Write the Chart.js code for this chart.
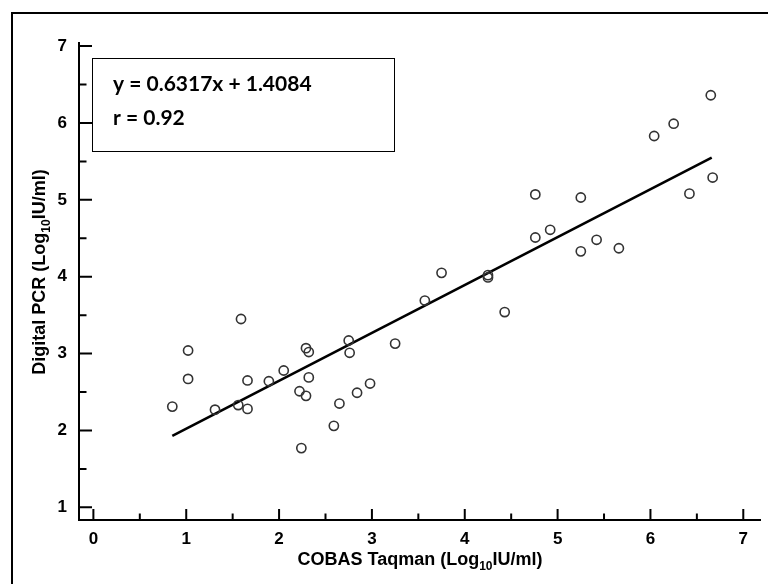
<!DOCTYPE html>
<html>
<head>
<meta charset="utf-8">
<title>Digital PCR vs COBAS Taqman</title>
<script src="https://cdn.jsdelivr.net/npm/chart.js@4"></script>
<style>
  html, body { margin: 0; padding: 0; background: #fff; }
  #wrap { width: 768px; height: 584px; position: relative; }
</style>
</head>
<body>
<div id="wrap"><canvas id="grafico" width="768" height="584"></canvas></div>
<script>
// Datos
const cobasValues = [0.85, 1.02, 1.02, 1.31, 1.56, 1.59, 1.66, 1.66, 1.89, 2.05,
  2.22, 2.24, 2.29, 2.32, 2.32, 2.29, 2.59, 2.65, 2.75, 2.76,
  2.84, 2.98, 3.25, 3.57, 3.75, 4.25, 4.25, 4.43, 4.76, 4.76,
  4.92, 5.25, 5.25, 5.42, 5.66, 6.04, 6.25, 6.42, 6.65, 6.67];
const dpcrValues = [2.31, 3.04, 2.67, 2.27, 2.33, 3.45, 2.28, 2.65, 2.64, 2.78,
  2.51, 1.77, 3.07, 3.02, 2.69, 2.45, 2.06, 2.35, 3.17, 3.01,
  2.49, 2.61, 3.13, 3.69, 4.05, 4.02, 3.99, 3.54, 5.07, 4.51,
  4.61, 5.03, 4.33, 4.48, 4.37, 5.83, 5.99, 5.08, 6.36, 5.29];

// Extremos de la recta de regresión
const fitX = [0.85, 6.66];
const fitY = [1.93, 5.55];

// Marcas de los ejes
const xTicks = [0, 1, 2, 3, 4, 5, 6, 7];
const xMinorTicks = [0.5, 1.5, 2.5, 3.5, 4.5, 5.5, 6.5];
const yTicks = [1, 2, 3, 4, 5, 6, 7];
const yMinorTicks = [1.5, 2.5, 3.5, 4.5, 5.5, 6.5];

const equationText = 'y = 0.6317x + 1.4084';
const rText = 'r = 0.92';
const xTitle = ['COBAS Taqman (Log', '10', 'IU/ml)'];
const yTitle = ['Digital PCR (Log', '10', 'IU/ml)'];

const axisFont = 'bold 18px "Liberation Sans", Arial, sans-serif';
const subFont = 'bold 12px "Liberation Sans", Arial, sans-serif';

// Dibuja un texto con subíndice centrado en (0, 0)
function drawSubTitle(c, parts) {
  c.font = axisFont;
  const w1 = c.measureText(parts[0]).width;
  const w3 = c.measureText(parts[2]).width;
  c.font = subFont;
  const w2 = c.measureText(parts[1]).width;
  let x = -(w1 + w2 + w3) / 2;
  c.textAlign = 'left';
  c.textBaseline = 'alphabetic';
  c.font = axisFont;
  c.fillText(parts[0], x, 0);
  x += w1;
  c.font = subFont;
  c.fillText(parts[1], x, 5);
  x += w2;
  c.font = axisFont;
  c.fillText(parts[2], x, 0);
}

const decorations = {
  id: 'decorations',
  afterDraw(chart) {
    const c = chart.ctx;
    const xs = chart.scales.x;
    const ys = chart.scales.y;
    const area = chart.chartArea;
    c.save();
    c.fillStyle = '#000';
    c.strokeStyle = '#000';

    // Marco exterior (solo arriba e izquierda)
    c.fillRect(11, 12, 757, 2);
    c.fillRect(11, 12, 2, 572);

    // Marcas hacia dentro
    c.lineWidth = 2;
    c.beginPath();
    xTicks.forEach(v => {
      const px = xs.getPixelForValue(v);
      c.moveTo(px, area.bottom); c.lineTo(px, area.bottom - 11);
    });
    xMinorTicks.forEach(v => {
      const px = xs.getPixelForValue(v);
      c.moveTo(px, area.bottom); c.lineTo(px, area.bottom - 6.5);
    });
    yTicks.forEach(v => {
      const py = ys.getPixelForValue(v);
      c.moveTo(area.left, py); c.lineTo(area.left + 13, py);
    });
    yMinorTicks.forEach(v => {
      const py = ys.getPixelForValue(v);
      c.moveTo(area.left, py); c.lineTo(area.left + 7.5, py);
    });
    c.stroke();

    // Cuadro con la ecuación
    c.lineWidth = 1;
    c.strokeRect(92.5, 58.5, 302, 93);
    c.font = 'bold 21px Lato, "Open Sans", sans-serif';
    c.textAlign = 'left';
    c.textBaseline = 'alphabetic';
    c.fillText(equationText, 113, 91);
    c.fillText(rText, 113, 125);

    // Títulos de los ejes
    c.save();
    c.translate(420, 565);
    drawSubTitle(c, xTitle);
    c.restore();
    c.save();
    c.translate(45, 272);
    c.rotate(-Math.PI / 2);
    drawSubTitle(c, yTitle);
    c.restore();

    c.restore();
  }
};

const ctx = document.getElementById('grafico');

new Chart(ctx, {
  type: 'scatter',
  data: {
    datasets: [
      {
        label: 'Muestras',
        data: cobasValues.map((x, i) => ({ x: x, y: dpcrValues[i] })),
        pointStyle: 'circle',
        pointRadius: 4.6,
        borderWidth: 1.6,
        borderColor: '#333',
        backgroundColor: 'rgba(0,0,0,0)'
      },
      {
        label: 'Regresión',
        data: fitX.map((x, i) => ({ x: x, y: fitY[i] })),
        showLine: true,
        borderColor: '#000',
        borderWidth: 2.6,
        pointRadius: 0
      }
    ]
  },
  options: {
    responsive: false,
    animation: false,
    events: [],
    layout: { padding: { left: 0, top: 43, right: 8, bottom: 0 } },
    plugins: { legend: { display: false }, tooltip: { enabled: false } },
    scales: {
      x: {
        type: 'linear',
        min: -0.155,
        max: 7.18,
        afterFit(scale) { scale.height = 64; },
        afterBuildTicks(scale) { scale.ticks = xTicks.map(v => ({ value: v })); },
        grid: { display: false, drawTicks: false },
        border: { display: true, color: '#000', width: 2 },
        ticks: {
          color: '#000',
          padding: 9,
          maxRotation: 0,
          autoSkip: false,
          font: { family: 'Liberation Sans', size: 17, weight: 'bold' }
        }
      },
      y: {
        type: 'linear',
        min: 0.835,
        max: 7.04,
        afterFit(scale) { scale.width = 79; },
        afterBuildTicks(scale) { scale.ticks = yTicks.map(v => ({ value: v })); },
        grid: { display: false, drawTicks: false },
        border: { display: true, color: '#000', width: 2 },
        ticks: {
          color: '#000',
          padding: 12,
          autoSkip: false,
          font: { family: 'Liberation Sans', size: 17, weight: 'bold' }
        }
      }
    }
  },
  plugins: [decorations]
});
</script>
</body>
</html>
